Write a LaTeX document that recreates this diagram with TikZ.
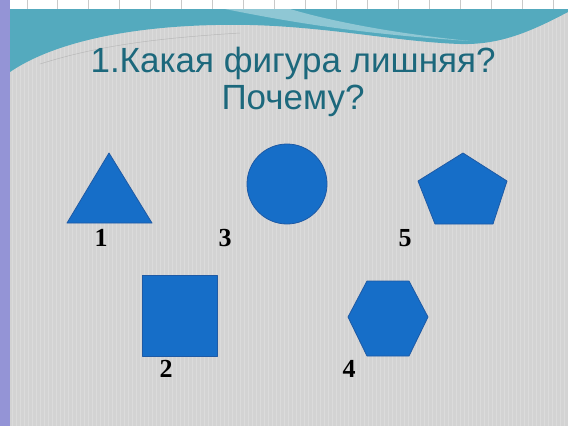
\documentclass[tikz,border=0pt]{standalone}
\usepackage{fontspec}
\setmainfont{Liberation Serif}
\newfontfamily\titlefont{Liberation Sans}
\definecolor{bgGray}{RGB}{211,211,211}
\definecolor{gridGray}{RGB}{219,219,219}
\definecolor{stripPurple}{RGB}{148,148,214}
\definecolor{waveTeal}{RGB}{84,170,190}
\definecolor{titleTeal}{RGB}{28,104,124}
\definecolor{figBlue}{RGB}{22,110,200}
\definecolor{figEdge}{RGB}{30,90,165}
\begin{document}
\begin{tikzpicture}[x=1pt,y=-1pt]
\tikzset{
    figShape/.style={fill=figBlue,draw=figEdge,line width=0.8pt,line join=round},
    figNum/.style={font=\fontsize{26}{26}\selectfont\bfseries,text=black,inner sep=0pt},
    titleLine/.style={font=\titlefont\fontsize{35}{35}\selectfont,text=titleTeal,anchor=base,inner sep=0pt},
}
\useasboundingbox (0,0) rectangle (568,426);
% background
\fill[bgGray] (0,0) rectangle (568,426);
\draw[gridGray,line width=0.25pt,step=4] (10,9) grid (568,426);
\fill[white] (0,0) rectangle (568,9);
\foreach \x in {27,57,88,119,150,181,212,243,274,305,336,367,398,429,460,491,522,553}
    \draw[gridGray!80!gray,line width=0.5pt] (\x,0) -- (\x,9);
\fill[stripPurple] (0,0) rectangle (10,426);

% wave
\fill[waveTeal] (10,9) -- (568,9) -- (568,12)
    .. controls (530,32) and (500,45) .. (460,44)
    .. controls (400,42) and (330,27) .. (250,25)
    .. controls (150,23) and (60,38) .. (10,72) -- cycle;
\fill[white,opacity=0.35] (225,9)
    .. controls (290,22) and (360,34) .. (470,41)
    .. controls (380,32) and (320,18) .. (290,9) -- cycle;
\draw[gray!70,line width=0.5pt,opacity=0.6] (40,64) .. controls (100,45) and (160,38) .. (240,33);

% title
\node[titleLine] (title1) at (293,72) {1.Какая фигура лишняя?};
\node[titleLine] (title2) at (293,109) {Почему?};

% figures
\filldraw[figShape] (109,153) -- (152,223) -- (67,223) -- cycle;
\filldraw[figShape] (287,184) circle (40);
\filldraw[figShape] (463,153) -- (507,181) -- (493,224) -- (435,224) -- (418,181) -- cycle;
\filldraw[figShape] (142,275) rectangle (217,356);
\filldraw[figShape] (367,281) -- (409,281) -- (428,317) -- (409,356) -- (367,356) -- (348,317) -- cycle;

% numbers
\foreach \x/\y/\t in {101/238/1, 166/369/2, 225/238/3, 349/369/4, 405/238/5} {
    \node[figNum] (num\t) at (\x,\y) {\t};
}
\end{tikzpicture}
\end{document}
